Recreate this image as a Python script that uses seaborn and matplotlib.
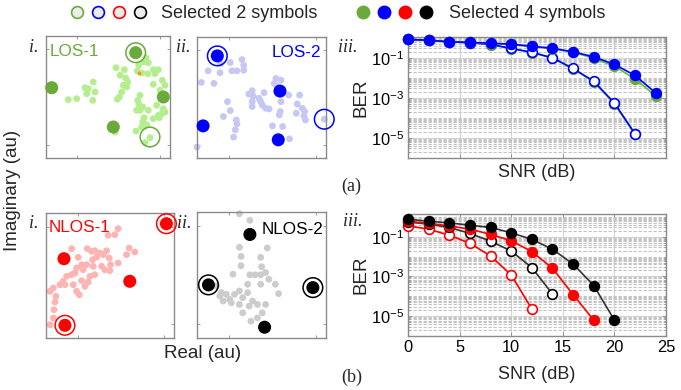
import matplotlib
matplotlib.use("Agg")
import matplotlib.pyplot as plt
from matplotlib.lines import Line2D
from matplotlib.legend_handler import HandlerTuple
from matplotlib.ticker import FixedLocator, NullFormatter
import seaborn as sns
import pandas as pd

sns.set_style("white")
plt.rcParams["font.family"] = ["Liberation Sans", "DejaVu Sans"]
plt.rcParams["mathtext.fontset"] = "custom"
plt.rcParams["mathtext.rm"] = "Liberation Sans"

# ---------------- colours ----------------
GREEN, GREEN_LT = "#6aaa3a", "#b5ee8e"
GREEN_LINE = "#5cc02c"
BLUE, BLUE_LT = "#0000ff", "#c7c7f3"
RED, RED_LT = "#ff0000", "#ffb4b4"
BLACK, GREY_LT = "#000000", "#cccccc"
FRAME = "#8a8a8a"

# ---------------- constellation data (arbitrary units) ----------------
los1_x = [100, 98, 102.3, 92.7, 91.3, 70, 78.3, 74, 79.7, 81.7, 77.3, 80.7, 75.7, 73.3, 71.3,
          95.7, 101.7, 107.3, 112.3, 109, 107.3, 116.3, 119, 114, 94, 91.7, 93, 96.7, 90.7, 94,
          102.3, 110.7, 117.3, 119, 112.3, 107.3, 98, 96.7, 100.7, 95.7, 90, 113.3, 115.7, 104,
          99, 39, 42.3, 47.3, 49, 40.7, 46.7, 30.7, 22.3, 69]
los1_y = [100.3, 96, 95.3, 92.7, 87, 90.3, 88.3, 82.7, 80, 76, 72.7, 71, 66, 61, 58.7,
          85, 84.3, 88.3, 88.3, 84.3, 73.7, 77.7, 72.7, 67.7, 62.7, 57.7, 53.7, 51, 47.7, 47.7,
          47.7, 52.7, 49.3, 46, 42.7, 39.3, 40.3, 36, 33.3, 31, 27, 40.3, 44.3, 20.3,
          15.3, 70.3, 69.3, 76, 66, 64.3, 57.7, 59.3, 58.3, 26]
los1_sel_x = [89.7, 5.7, 117.3, 67.3]
los1_sel_y = [105.3, 70.3, 61, 31]
los1_ring_x = [89.7, 104]
los1_ring_y = [105.3, 21]
los1_odd_x = [93]
los1_odd_y = [85]

los2_x = [23.3, 32.7, 44.3, 46, 34.3, 39.3, 46, 11, 22.7, 4.3, 16.7, 77.7, 82.7, 76, 78.7,
          54.3, 51, 55.3, 66, 61, 62.7, 54.3, 54.3, 64.3, 67.7, 71, 82.7, 82, 81, 90.3, 101,
          98.7, 103.7, 106, 97.7, 106.7, 105.3, 30, 32.7, 26, 38.7, 39.3, 37.7, 36, 74.3, 84.3,
          91, 0, 125.3]
los2_y = [95, 96, 99, 93.3, 87.7, 87.7, 88.3, 87.7, 85.7, 76, 75, 80, 78.3, 75, 72.3,
          67.7, 64.3, 62.3, 65.7, 60, 56.7, 56.7, 51.7, 53.3, 50, 49.3, 56.7, 46.7, 43.3, 63.3, 63.3,
          54.3, 50, 46.7, 45, 38.3, 42.3, 56.7, 47.7, 41.7, 38.3, 34.3, 28.3, 21, 32.3, 31.7,
          19.3, 11, 39]
los2_sel_x = [20, 81.7, 6, 80]
los2_sel_y = [102.7, 67.3, 32.3, 18.3]
los2_ring_x = [20, 125.3]
los2_ring_y = [102.7, 39]

nlos1_x = [72.3, 69, 62.3, 83.3, 89, 80.7, 72.3, 25.7, 41.3, 45.7, 49, 54, 60.7, 57.3, 50.7,
           46.7, 63.3, 32.3, 64.7, 64, 59, 55.7, 47.3, 40.7, 35.7, 37.3, 30.7, 29, 25.7, 20.7,
           17.3, 14, 19, 27.3, 35.7, 42.3, 39, 44, 49, 30.7, 33.3, 7.3, 4, 10, 9, 8, 7.3, 4]
nlos1_y = [109.3, 103.3, 102.7, 90, 86, 83.3, 75, 89.3, 89.3, 86.7, 87.3, 85, 87.3, 83.3, 80.7,
           78.3, 80, 80.7, 73.3, 67.3, 68.3, 71.7, 71.7, 73.3, 73.3, 68.3, 70, 65, 63.3, 61.7,
           56.7, 53.3, 53.3, 53.3, 57.3, 56, 51.7, 61.7, 63.3, 46.7, 43.3, 50, 46.7, 41.7, 36, 28.3, 20, 13.3]
nlos1_sel_x = [120.7, 18, 84, 19]
nlos1_sel_y = [114.3, 79.3, 56.7, 12.7]
nlos1_ring_x = [120.7, 19]
nlos1_ring_y = [114.3, 12.7]

nlos2_x = [43.3, 54, 51.7, 43.3, 45, 71.7, 65, 36.7, 45, 54, 59.3, 65, 70, 66, 51.7, 65, 80,
           83.3, 73.3, 20, 25, 30, 33.3, 38.3, 43.3, 46.7, 51.7, 56.7, 61.7, 35, 26.7, 43.3, 53.3,
           46.7, 70, 66.7, 61.7, 55, 23.3]
nlos2_y = [123.3, 116.7, 105, 90, 81, 89.3, 80, 63.3, 71.7, 62.7, 62.7, 62.7, 65, 70.7, 53.3, 53.3, 53.3,
           44, 58.3, 51.7, 45, 43.3, 38.3, 43.3, 46.7, 40, 45, 36.7, 33.3, 35, 36.7, 33.3, 31.7,
           25, 33.3, 25, 20, 16.7, 41.7]
nlos2_sel_x = [54, 11.7, 118.3, 69]
nlos2_sel_y = [102.7, 52.7, 50, 10.7]
nlos2_ring_x = [11.7, 118.3]
nlos2_ring_y = [52.7, 50]

# ---------------- BER data ----------------
snr_los = [0, 2, 4, 6, 8, 10, 12, 14, 16, 18, 20, 22, 24]
ber_los1_4 = [0.83, 0.76, 0.63, 0.59, 0.51, 0.468, 0.372, 0.282, 0.191, 0.0955, 0.038, 0.0089, 0.00126]
ber_los2_4 = [0.83, 0.76, 0.63, 0.59, 0.54, 0.48, 0.38, 0.30, 0.20, 0.112, 0.047, 0.0132, 0.00178]
snr_los_2 = [0, 2, 4, 6, 8, 10, 12, 14, 16, 18, 20, 22]
ber_los1_2 = [0.83, 0.76, 0.63, 0.57, 0.46, 0.29, 0.185, 0.097, 0.028, 0.0063, 0.0005, 1.5e-5]
ber_los2_2 = [0.83, 0.76, 0.63, 0.575, 0.47, 0.295, 0.19, 0.10, 0.0295, 0.0068, 0.00056, 1.6e-5]

snr_nlos2_4 = [0, 2, 4, 6, 8, 10, 12, 14, 16, 18, 20]
ber_nlos2_4 = [0.76, 0.60, 0.50, 0.38, 0.295, 0.158, 0.074, 0.0234, 0.0042, 3.5e-4, 6.3e-6]
snr_nlos1_4 = [0, 2, 4, 6, 8, 10, 12, 14, 16, 18]
ber_nlos1_4 = [0.60, 0.47, 0.355, 0.24, 0.132, 0.063, 0.0178, 0.0026, 1.2e-4, 6.3e-6]
snr_nlos2_2 = [0, 2, 4, 6, 8, 10, 12, 14]
ber_nlos2_2 = [0.56, 0.43, 0.295, 0.148, 0.060, 0.019, 0.0028, 1.3e-4]
snr_nlos1_2 = [0, 2, 4, 6, 8, 10, 12]
ber_nlos1_2 = [0.355, 0.24, 0.12, 0.047, 0.0107, 0.0012, 2.3e-5]

snr_ticks = [0, 5, 10, 15, 20, 25]
ber_ticks = [1e-5, 1e-3, 1e-1]
ber_tick_labels = [r"$\mathregular{10^{-5}}$", r"$\mathregular{10^{-3}}$", r"$\mathregular{10^{-1}}$"]

W, H = 681, 390
fig = plt.figure(figsize=(W / 100, H / 100), dpi=100)


def px_axes(x0, y0, x1, y1):
    return fig.add_axes([x0 / W, 1 - y1 / H, (x1 - x0) / W, (y1 - y0) / H])


def style_box(ax):
    for sp in ax.spines.values():
        sp.set_visible(True)
        sp.set_color(FRAME)
        sp.set_linewidth(1.0)


def constellation(ax, xs, ys, light, sx, sy, dark, rx, ry, xlim, ylim, label, lcolor, lpos, ha):
    df = pd.DataFrame({"re": xs, "im": ys})
    sns.scatterplot(data=df, x="re", y="im", ax=ax, color=light, s=24, linewidth=0,
                    edgecolor="none", clip_on=False, zorder=2)
    sel = pd.DataFrame({"re": sx, "im": sy})
    sns.scatterplot(data=sel, x="re", y="im", ax=ax, color=dark, s=88, linewidth=0,
                    edgecolor="none", clip_on=False, zorder=3)
    ax.scatter(rx, ry, s=200, facecolors="none", edgecolors=dark, linewidths=1.1,
               clip_on=False, zorder=4)
    ax.set_xlim(*xlim)
    ax.set_ylim(*ylim)
    ax.set_xlabel("")
    ax.set_ylabel("")
    ax.set_xticks([xlim[1] * 0.25, xlim[1] * 0.92])
    ax.set_yticks([ylim[1] * 0.11, ylim[1] * 0.89])
    ax.tick_params(direction="in", length=2, width=0.6, colors=FRAME,
                   labelbottom=False, labelleft=False, top=True, right=True,
                   bottom=True, left=True)
    style_box(ax)
    ax.text(lpos[0], lpos[1], label, color=lcolor, fontsize=12.3, ha=ha, va="center",
            transform=ax.transAxes)


ax_a1 = px_axes(46, 36, 170, 158)
constellation(ax_a1, los1_x, los1_y, GREEN_LT, los1_sel_x, los1_sel_y, GREEN,
              los1_ring_x, los1_ring_y, (0, 124), (0, 122), "LOS-1", GREEN, (0.03, 0.87), "left")
ax_a1.scatter(los1_odd_x, los1_odd_y, s=8, color="#f39a1d", linewidths=0, zorder=3)

ax_a2 = px_axes(197, 37, 326, 158)
constellation(ax_a2, los2_x, los2_y, BLUE_LT, los2_sel_x, los2_sel_y, BLUE,
              los2_ring_x, los2_ring_y, (0, 127), (0, 121.7), "LOS-2", BLUE, (0.96, 0.87), "right")

ax_b1 = px_axes(46, 213, 174, 338)
constellation(ax_b1, nlos1_x, nlos1_y, RED_LT, nlos1_sel_x, nlos1_sel_y, RED,
              nlos1_ring_x, nlos1_ring_y, (0, 128.3), (0, 125), "NLOS-1", RED, (0.02, 0.88), "left")

ax_b2 = px_axes(197, 212, 326, 338)
constellation(ax_b2, nlos2_x, nlos2_y, GREY_LT, nlos2_sel_x, nlos2_sel_y, BLACK,
              nlos2_ring_x, nlos2_ring_y, (0, 131.7), (0, 125), "NLOS-2", BLACK, (0.98, 0.86), "right")


def ber_axes(ax, curves, show_xlabels, ylim):
    for snr, ber, col, lcol, filled in curves:
        df = pd.DataFrame({"SNR": snr, "BER": ber})
        sns.lineplot(data=df, x="SNR", y="BER", ax=ax, color=lcol, linewidth=1.2,
                     marker="o", markersize=7, markeredgewidth=1.2,
                     markerfacecolor=col if filled else "white", markeredgecolor=col,
                     clip_on=False, zorder=3)
    ax.set_yscale("log")
    ax.set_xlim(0, 25)
    ax.set_ylim(*ylim)
    ax.set_xticks(snr_ticks)
    ax.yaxis.set_major_locator(FixedLocator(ber_ticks))
    ax.set_yticklabels(ber_tick_labels)
    minor = [m * 10.0 ** e for e in range(-7, 1) for m in range(1, 10)]
    minor = [v for v in minor if v not in ber_ticks]
    ax.yaxis.set_minor_locator(FixedLocator(minor))
    ax.yaxis.set_minor_formatter(NullFormatter())
    ax.grid(True, which="major", color="#d4d4d4", linewidth=0.8, linestyle="-")
    ax.grid(True, which="minor", axis="y", color="#c4c4c4", linewidth=0.8, linestyle=(0, (3, 1.5)))
    ax.tick_params(axis="both", which="major", direction="in", length=3, width=0.6,
                   colors=FRAME, labelcolor="black", labelsize=11.8, pad=3,
                   top=True, right=True, bottom=True, left=True)
    ax.tick_params(axis="y", which="minor", direction="in", length=1.5, width=0.5,
                   colors=FRAME, left=True, right=True)
    if not show_xlabels:
        ax.tick_params(axis="x", labelbottom=False)
    ax.set_ylabel("BER", fontsize=13.5, labelpad=1)
    ax.set_xlabel("SNR (dB)", fontsize=13, labelpad=8 if show_xlabels else 4)
    style_box(ax)
    ax.set_axisbelow(True)


ax_a3 = px_axes(408, 37, 666, 158)
ber_axes(ax_a3, [
    (snr_los_2, ber_los1_2, GREEN, GREEN_LINE, False),
    (snr_los_2, ber_los2_2, BLUE, BLUE, False),
    (snr_los, ber_los1_4, GREEN, GREEN_LINE, True),
    (snr_los, ber_los2_4, BLUE, BLUE, True),
], False, (1e-6, 1.1))

ax_b3 = px_axes(408, 214, 666, 336)
ber_axes(ax_b3, [
    (snr_nlos1_2, ber_nlos1_2, RED, RED, False),
    (snr_nlos2_2, ber_nlos2_2, BLACK, "#333333", False),
    (snr_nlos1_4, ber_nlos1_4, RED, RED, True),
    (snr_nlos2_4, ber_nlos2_4, BLACK, "#333333", True),
], True, (1e-6, 1.4))

# ---------------- panel labels and shared axis titles ----------------
serif = dict(family=["Liberation Serif", "DejaVu Serif"], style="italic", fontsize=13)
for x, y, t in [(29, 47, "i."), (176, 47, "ii."), (338, 47, "iii."),
                (29, 224, "i."), (177, 224, "ii."), (343, 222, "iii.")]:
    fig.text(x / W, 1 - y / H, t, va="center", ha="left", **serif)
for x, y, t in [(341, 186, "(a)"), (341, 377, "(b)")]:
    fig.text(x / W, 1 - y / H, t, va="center", ha="left",
             family=["Liberation Serif", "DejaVu Serif"], fontsize=13)

fig.text(13 / W, 1 - 190 / H, "Imaginary (au)", rotation=90, va="center", ha="center", fontsize=13.5)
fig.text(203 / W, 1 - 353 / H, "Real (au)", va="center", ha="center", fontsize=13.5)

# ---------------- legends ----------------
open_h = tuple(Line2D([], [], linestyle="none", marker="o", markersize=8.5,
                      markerfacecolor="#ececec", markeredgecolor=c, markeredgewidth=1.2)
               for c in [GREEN, BLUE, RED, BLACK])
fill_h = tuple(Line2D([], [], linestyle="none", marker="o", markersize=9,
                      markerfacecolor=c, markeredgecolor=c)
               for c in [GREEN, BLUE, RED, BLACK])
for h, lab, x0, tp in [(open_h, "Selected 2 symbols", 67, 0.62), (fill_h, "Selected 4 symbols", 353, 0.74)]:
    fig.legend([h], [lab], handler_map={tuple: HandlerTuple(ndivide=None, pad=0)},
               loc="center left", bbox_to_anchor=(x0 / W, 1 - 14 / H), frameon=False,
               fontsize=13, handlelength=4.6, handletextpad=tp, borderpad=0,
               borderaxespad=0)

fig.savefig("out.png", dpi=100)
